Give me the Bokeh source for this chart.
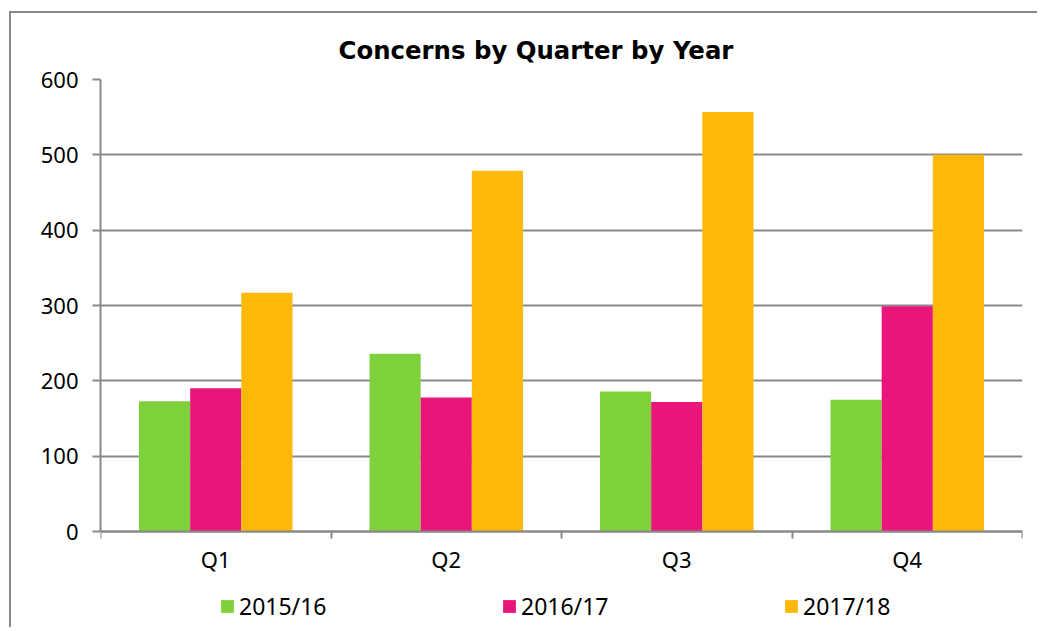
import numpy as np
from bokeh.plotting import figure
from bokeh.models import (Range1d, FixedTicker, Legend, LegendItem, ColumnDataSource)
from bokeh.transform import dodge
from bokeh.embed import file_html
from bokeh.resources import INLINE

quarters = ["Q1", "Q2", "Q3", "Q4"]
years = ["2015/16", "2016/17", "2017/18"]
v2015 = [173, 236, 186, 175]
v2016 = [190, 178, 172, 299]
v2017 = [317, 479, 557, 500]
colors = ["#7FD13B", "#EA157A", "#FEB80A"]
title_text = "Concerns by Quarter by Year"
y_ticks = [0, 100, 200, 300, 400, 500, 600]

GRAY = "#898989"
FONT = "Noto Sans"

W, H = 1028, 616
TOP = 66
AXIS_PX = 452          # pixel height of the 0..600 value span
frame_px = H - TOP
y_min = 600 - 600 * frame_px / AXIS_PX   # room below zero for labels + legend

centers = list(np.arange(len(quarters)) + 0.5)
src = ColumnDataSource(dict(x=centers, q=quarters, a=v2015, b=v2016, c=v2017))

p = figure(width=W, height=H, output_backend="svg", toolbar_location=None,
           x_range=Range1d(0, len(quarters)), y_range=Range1d(y_min, 600),
           min_border_left=89, min_border_right=17, min_border_top=TOP, min_border_bottom=0,
           title=title_text)
p.styles = {"margin-top": "11px", "margin-left": "9px",
            "border-left": f"2px solid {GRAY}", "border-top": f"2px solid {GRAY}"}
p.outline_line_color = None
p.background_fill_color = "white"
p.border_fill_color = "white"

p.title.text_font = "DejaVu Sans"
p.title.text_font_style = "bold"
p.title.text_font_size = "24.4px"
p.title.text_color = "black"
p.title.align = "left"
p.title.offset = 238
p.title.standoff = 30

bw = 0.222
renderers = []
for key, off, col in zip(["a", "b", "c"], [-bw, 0, bw], colors):
    r = p.vbar(x=dodge("x", off, range=p.x_range), top=key, width=bw, source=src,
               fill_color=col, line_color=None)
    renderers.append(r)

# x axis (pinned at zero)
xa = p.xaxis[0]
xa.fixed_location = 0
xa.ticker = FixedTicker(ticks=centers, minor_ticks=list(range(len(quarters) + 1)))
xa.major_label_overrides = {c: q for c, q in zip(centers, quarters)}
xa.major_tick_out = 0
xa.major_tick_in = 0
xa.minor_tick_out = 7
xa.minor_tick_in = 0
xa.minor_tick_line_color = GRAY
xa.minor_tick_line_width = 2
xa.axis_line_color = GRAY
xa.axis_line_width = 2
xa.major_label_standoff = 5
xa.major_label_text_font = FONT
xa.major_label_text_font_size = "22px"
xa.major_label_text_color = "black"

# y axis
ya = p.yaxis[0]
ya.bounds = (0, 600)
ya.ticker = FixedTicker(ticks=y_ticks)
ya.major_tick_out = 8
ya.major_tick_in = 0
ya.minor_tick_line_color = None
ya.major_tick_line_color = GRAY
ya.major_tick_line_width = 2
ya.axis_line_color = GRAY
ya.axis_line_width = 2
ya.major_label_standoff = 14
ya.major_label_text_font = FONT
ya.major_label_text_font_size = "22px"
ya.major_label_text_color = "black"

p.xgrid.grid_line_color = None
p.ygrid.grid_line_color = GRAY
p.ygrid.grid_line_width = 2
p.ygrid.ticker = FixedTicker(ticks=y_ticks)

legend = Legend(items=[LegendItem(label=y, renderers=[r]) for y, r in zip(years, renderers)],
                orientation="horizontal", location=(119, 7),
                glyph_width=16, glyph_height=16, label_standoff=4, label_width=262,
                spacing=0, padding=0, margin=0, border_line_color=None,
                background_fill_alpha=0, label_text_font=FONT,
                label_text_font_size="23px", label_text_color="black")
p.add_layout(legend)

open("out.html", "w").write(file_html(p, INLINE))
